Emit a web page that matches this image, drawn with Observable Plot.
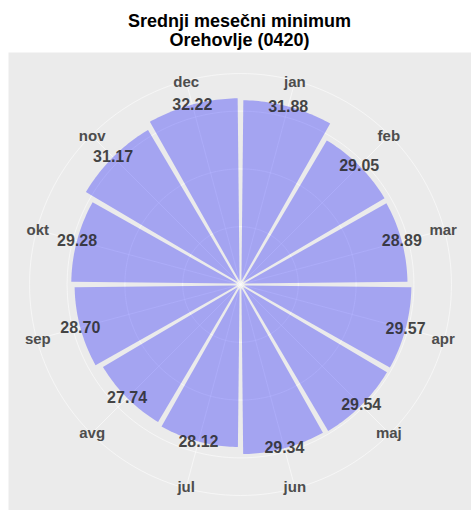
<!DOCTYPE html>
<html><head><meta charset="utf-8">
<script src="https://cdn.jsdelivr.net/npm/d3@7"></script>
<script src="https://cdn.jsdelivr.net/npm/@observablehq/plot@0.6"></script>
<style>
body{margin:0;background:#fff;font-family:"Liberation Sans",Arial,sans-serif;}
#title{padding:12px 0 0 8px;height:40px;text-align:center;font-weight:bold;font-size:18px;line-height:19px;color:#000;}
#chart svg{display:block;}
</style></head><body>
<div id="title">Srednji mesečni minimum<br>Orehovlje (0420)</div>
<div id="chart"></div>
<script>
// data
const months = ["jan","feb","mar","apr","maj","jun","jul","avg","sep","okt","nov","dec"];
const values = [31.88,29.05,28.89,29.57,29.54,29.34,28.12,27.74,28.70,29.28,31.17,32.22];
const valueLabels = values.map(v => v.toFixed(2));
const gridBreaks = [10, 20, 30];

// geometry of the polar layout (units = data units of radius)
const k = 5.78;               // px per unit
const outerR = 36.5;          // outer ring (ggplot 0.45)
const labelR = 36.3;
const halfGap = 0.0105;       // angular half gap (rad)
const d = 0.9 / k;            // constant half gap
const step = Math.PI / 6;

const bars = [];
months.forEach((m, i) => {
  const r = values[i];
  const a0 = i * step + halfGap, a1 = (i + 1) * step - halfGap;
  const h = (a1 - a0) / 2, mid = (a0 + a1) / 2;
  const inner = d / Math.sin(h);
  bars.push({m, x: inner * Math.sin(mid), y: inner * Math.cos(mid)});
  const del = Math.asin(d / r);
  const n = 30;
  for (let j = 0; j <= n; j++) {
    const a = a0 + del + (a1 - del - (a0 + del)) * j / n;
    bars.push({m, x: r * Math.sin(a), y: r * Math.cos(a)});
  }
});

const rings = [];
[...gridBreaks, outerR].forEach(rr => {
  for (let j = 0; j < 180; j++) {
    const a = j / 180 * 2 * Math.PI;
    rings.push({rr, x: rr * Math.sin(a), y: rr * Math.cos(a)});
  }
});

const spokes = months.map((m, i) => {
  const a = (i + 0.5) * step;
  return {x2: outerR * Math.sin(a), y2: outerR * Math.cos(a)};
});

const valueText = months.map((m, i) => {
  const a = (i + 0.5) * step;
  return {t: valueLabels[i], x: values[i] * Math.sin(a), y: values[i] * Math.cos(a)};
});
const monthText = months.map((m, i) => {
  const a = (i + 0.5) * step;
  return {t: m, x: labelR * Math.sin(a), y: labelR * Math.cos(a)};
});

const W = 471, H = 458, ml = 8;
const cx = 232, cy = 232; // centre offset inside the panel in px
const chart = Plot.plot({
  width: W, height: H,
  marginLeft: ml, marginRight: 0, marginTop: 0, marginBottom: 0,
  x: {domain: [-cx / k, (W - ml - cx) / k], axis: null},
  y: {domain: [-(H - cy) / k, cy / k], axis: null},
  style: {fontFamily: "Liberation Sans, Arial, sans-serif", background: "#fff"},
  marks: [
    Plot.frame({fill: "#ebebeb", stroke: null}),
    Plot.line(rings, {x: "x", y: "y", z: "rr", curve: "linear-closed", stroke: "#fff", strokeWidth: 1, strokeOpacity: 0.55}),
    Plot.link(spokes, {x1: 0, y1: 0, x2: "x2", y2: "y2", stroke: "#fff", strokeWidth: 1, strokeOpacity: 0.55}),
    Plot.line(bars, {x: "x", y: "y", z: "m", curve: "linear-closed", fill: "blue", fillOpacity: 0.3, stroke: "none"}),
    Plot.text(valueText, {x: "x", y: "y", text: "t", fontSize: 16, fontWeight: "bold", fill: "#262626", fillOpacity: 0.85, textAnchor: "middle", lineAnchor: "middle"}),
    Plot.text(monthText, {x: "x", y: "y", text: "t", fontSize: 15, fontWeight: "bold", fill: "#4d4d4d", textAnchor: "middle", lineAnchor: "middle"})
  ]
});
document.getElementById("chart").appendChild(chart);
</script>
</body></html>
